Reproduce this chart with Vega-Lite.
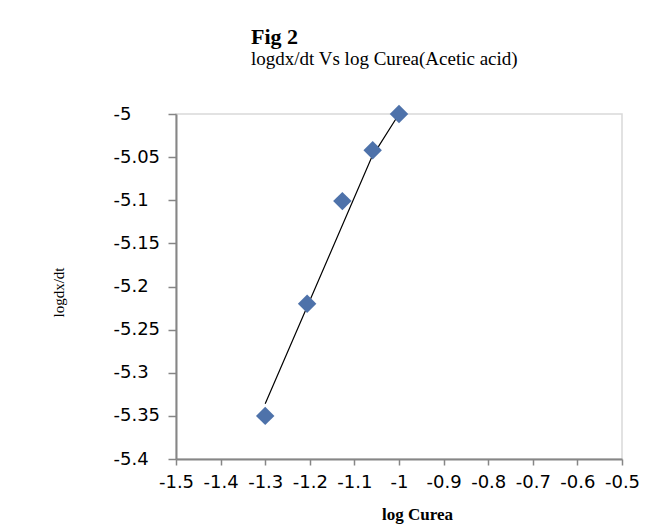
{
  "$schema": "https://vega.github.io/schema/vega-lite/v6.json",
  "width": 446,
  "height": 345,
  "autosize": {"type": "none"},
  "padding": {"left": 176, "top": 114, "right": 36, "bottom": 65},
  "background": "white",
  "datasets": {
    "points": [
      {"logCurea": -1.3, "logdxdt": -5.35},
      {"logCurea": -1.206, "logdxdt": -5.22},
      {"logCurea": -1.127, "logdxdt": -5.101},
      {"logCurea": -1.059, "logdxdt": -5.042},
      {"logCurea": -1.0, "logdxdt": -5.0}
    ],
    "trend": [
      {"logCurea": -1.3, "logdxdt": -5.336},
      {"logCurea": -1.061, "logdxdt": -5.05},
      {"logCurea": -1.0, "logdxdt": -5.0}
    ]
  },
  "title": {
    "text": "Fig 2",
    "subtitle": "logdx/dt Vs log Curea(Acetic acid)",
    "anchor": "start",
    "frame": "group",
    "dx": 75,
    "offset": 35,
    "font": "Liberation Serif",
    "fontSize": 22,
    "fontWeight": "bold",
    "color": "black",
    "subtitleFont": "Liberation Serif",
    "subtitleFontSize": 19,
    "subtitleColor": "black",
    "subtitlePadding": 1
  },
  "config": {
    "view": {"stroke": "#d9d9d9", "strokeWidth": 1.5},
    "axis": {
      "grid": false,
      "domainColor": "#868686",
      "domainWidth": 2,
      "tickColor": "#868686",
      "tickWidth": 1.5,
      "labelFont": "DejaVu Sans",
      "labelFontSize": 18,
      "labelColor": "black",
      "titleColor": "black",
      "labelExpr": "replace(format(datum.value, '~g'), '\u2212', '-')"
    }
  },
  "layer": [
    {
      "data": {"name": "trend"},
      "mark": {"type": "line", "color": "black", "strokeWidth": 1.2},
      "encoding": {
        "x": {"field": "logCurea", "type": "quantitative"},
        "y": {"field": "logdxdt", "type": "quantitative"}
      }
    },
    {
      "data": {"name": "points"},
      "mark": {"type": "point", "shape": "diamond", "filled": true, "size": 340, "color": "#4e72aa", "opacity": 1},
      "encoding": {
        "x": {
          "field": "logCurea",
          "type": "quantitative",
          "scale": {"domain": [-1.5, -0.5], "nice": false, "zero": false},
          "axis": {
            "values": [-1.5, -1.4, -1.3, -1.2, -1.1, -1.0, -0.9, -0.8, -0.7, -0.6, -0.5],
            "tickSize": 6,
            "labelPadding": 8,
            "labelFlush": false,
            "labelOverlap": false,
            "title": "log Curea",
            "titleFont": "Liberation Serif",
            "titleFontSize": 17,
            "titleFontWeight": "bold",
            "titleX": 241,
            "titleY": 60,
            "titleAlign": "center",
            "titleBaseline": "alphabetic"
          }
        },
        "y": {
          "field": "logdxdt",
          "type": "quantitative",
          "scale": {"domain": [-5.4, -5.0], "nice": false, "zero": false},
          "axis": {
            "values": [-5.4, -5.35, -5.3, -5.25, -5.2, -5.15, -5.1, -5.05, -5.0],
            "tickSize": 8,
            "labelAlign": "left",
            "labelPadding": 55,
            "labelFlush": false,
            "labelOverlap": false,
            "title": "logdx/dt",
            "titleFont": "Liberation Serif",
            "titleFontSize": 15,
            "titleFontWeight": "normal",
            "titleAngle": -90,
            "titleX": -118,
            "titleY": 178,
            "titleAlign": "center",
            "titleBaseline": "middle"
          }
        }
      }
    }
  ]
}
